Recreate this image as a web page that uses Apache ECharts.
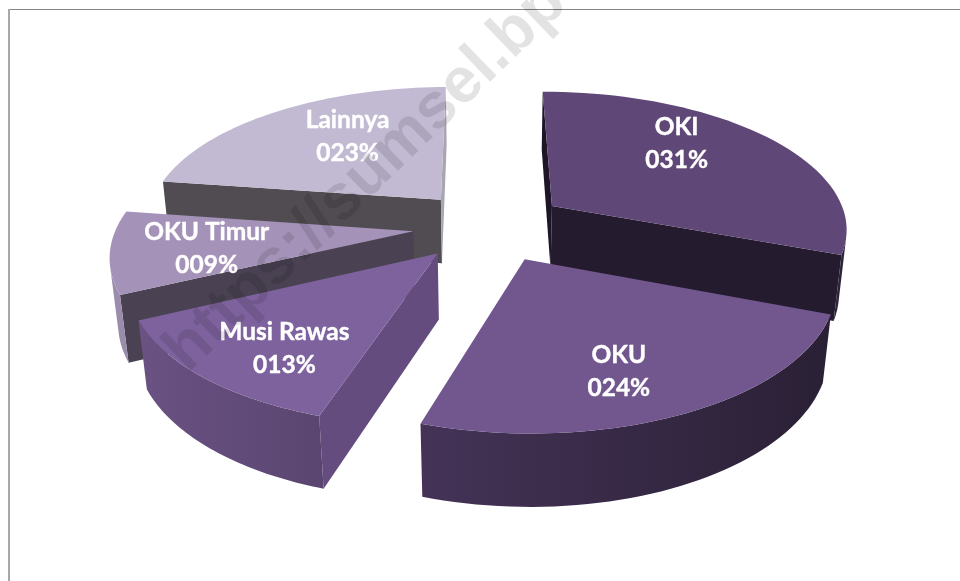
<!DOCTYPE html>
<html>
<head>
<meta charset="utf-8">
<title>Pie</title>
<style>
  html, body { margin: 0; padding: 0; background: #fff; }
  #main { width: 960px; height: 581px; }
</style>
<script src="https://cdn.jsdelivr.net/npm/echarts@6/dist/echarts.min.js"></script>
</head>
<body>
<div id="main"></div>
<script>
var categories = ['OKI', 'OKU', 'Musi Rawas', 'OKU Timur', 'Lainnya'];
// label menampilkan pembulatannya
var values = [30.86, 24.2, 13, 9.4, 22.6];

// warna tiap potongan
var topColor = ['#5f4877', '#72578f', '#7e629e', '#a492b8', '#c2bad2'];
var startWallColor = ['#1e1627', '#2a2035', '#644d7e', '#4a4252', '#504c52'];
var endWallColor = ['#251b2f', '#2a2035', '#644d7e', '#4a4252', '#a8a4b0'];
var arcWallColor = [
  ['#2e2338', '#2e2338'],
  ['#443357', '#2a2035'],
  ['#6a5283', '#5a4570'],
  ['#9a8dab', '#9a8dab'],
  ['#a8a4b0', '#a8a4b0']
];
// posisi label relatif ke pusat potongan, di bidang pie
var labelPlace = [[0.478, 0.51], [0.262, -0.68], [-0.44, -0.594], [-0.675, -0.125], [-0.362, 0.527]];
// urutan gambar, yang belakang dulu
var drawOrder = [0, 4, 3, 2, 1];

// kamera
var cam = { cx: 490, cy: 226, a: 296.5, b: 137, c: 66, p: 0.15, q: 0.022, explode: 0.26, start: -0.3 };

function project(u, v, z) {
  var w = 1 + cam.p * v + cam.q * z;
  return [cam.cx + cam.a * u / w, cam.cy - (cam.b * v - cam.c * z) / w];
}

var total = values.reduce(function (s, v) { return s + v; }, 0);

function sliceAngles(i) {
  var before = 0;
  for (var k = 0; k < i; k++) before += values[k];
  var a0 = cam.start + before / total * 360;
  return [a0, a0 + values[i] / total * 360];
}

function rad(d) { return d * Math.PI / 180; }

function area(pts) {
  var sum = 0;
  for (var i = 0; i < pts.length; i++) {
    var a = pts[i], b = pts[(i + 1) % pts.length];
    sum += a[0] * b[1] - b[0] * a[1];
  }
  return sum;
}

function renderSlice(params, api) {
  var i = api.value(0);
  var ang = sliceAngles(i);
  var mid = rad((ang[0] + ang[1]) / 2);
  var u0 = cam.explode * Math.sin(mid);
  var v0 = cam.explode * Math.cos(mid);
  var top = [], bottom = [];
  var steps = 48;
  for (var s = 0; s <= steps; s++) {
    var t = rad(ang[0] + (ang[1] - ang[0]) * s / steps);
    var u = u0 + Math.sin(t), v = v0 + Math.cos(t);
    top.push(project(u, v, 0));
    bottom.push(project(u, v, 1));
  }
  var apexTop = project(u0, v0, 0);
  var apexBottom = project(u0, v0, 1);
  var children = [];

  // dinding yang menghadap belakang tidak digambar
  var startWall = [apexTop, top[0], bottom[0], apexBottom];
  if (area(startWall) < 0) {
    children.push({ type: 'polygon', shape: { points: startWall }, style: { fill: startWallColor[i] } });
  }
  var endWall = [apexTop, top[steps], bottom[steps], apexBottom];
  if (area(endWall) > 0) {
    children.push({ type: 'polygon', shape: { points: endWall }, style: { fill: endWallColor[i] } });
  }
  var arcTop = [], arcBottom = [];
  for (var k = 0; k < steps; k++) {
    if (area([top[k], top[k + 1], bottom[k + 1], bottom[k]]) < 0) {
      if (!arcTop.length) {
        arcTop.push(top[k]);
        arcBottom.push(bottom[k]);
      }
      arcTop.push(top[k + 1]);
      arcBottom.push(bottom[k + 1]);
    }
  }
  if (arcTop.length) {
    children.push({ type: 'polygon', shape: { points: arcTop.concat(arcBottom.reverse()) },
      style: { fill: new echarts.graphic.LinearGradient(1, 0, 0, 0, [
        { offset: 0, color: arcWallColor[i][1] },
        { offset: 1, color: arcWallColor[i][0] }
      ]) } });
  }
  children.push({ type: 'polygon', shape: { points: [apexTop].concat(top) }, style: { fill: topColor[i] } });

  var labelPos = project(u0 + labelPlace[i][0], v0 + labelPlace[i][1], 0);
  var num = ('000' + Math.round(values[i])).slice(-3) + '%';
  children.push({ type: 'text', z2: 10, style: {
    x: labelPos[0], y: labelPos[1],
    text: categories[i] + '\n' + num,
    fill: '#fff',
    stroke: '#fff',
    lineWidth: 0.4,
    font: 'bold 24.5px Lato',
    lineHeight: 33,
    textAlign: 'center',
    textVerticalAlign: 'middle'
  } });

  return { type: 'group', children: children };
}

var myChart = echarts.init(document.getElementById('main'), null, { renderer: 'canvas' });
myChart.setOption({
  animation: false,
  backgroundColor: '#fff',
  graphic: [
    { type: 'rect', z: 1, shape: { x: 9, y: 9, width: 951, height: 1 }, style: { fill: '#858585' } },
    { type: 'rect', z: 1, shape: { x: 8, y: 9, width: 2, height: 572 }, style: { fill: '#a8a8a8' } },
    { type: 'text', z: 100, x: 366, y: 177, rotation: Math.PI / 180 * 44, style: {
      text: 'https://sumsel.bp',
      fill: 'rgba(0,0,0,0.11)',
      font: 'bold 64px "Liberation Sans"',
      textAlign: 'center',
      textVerticalAlign: 'middle'
    } }
  ],
  series: [{
    type: 'custom',
    coordinateSystem: 'none',
    renderItem: renderSlice,
    silent: true,
    data: drawOrder.map(function (i) { return [i]; })
  }]
});
</script>
</body>
</html>
